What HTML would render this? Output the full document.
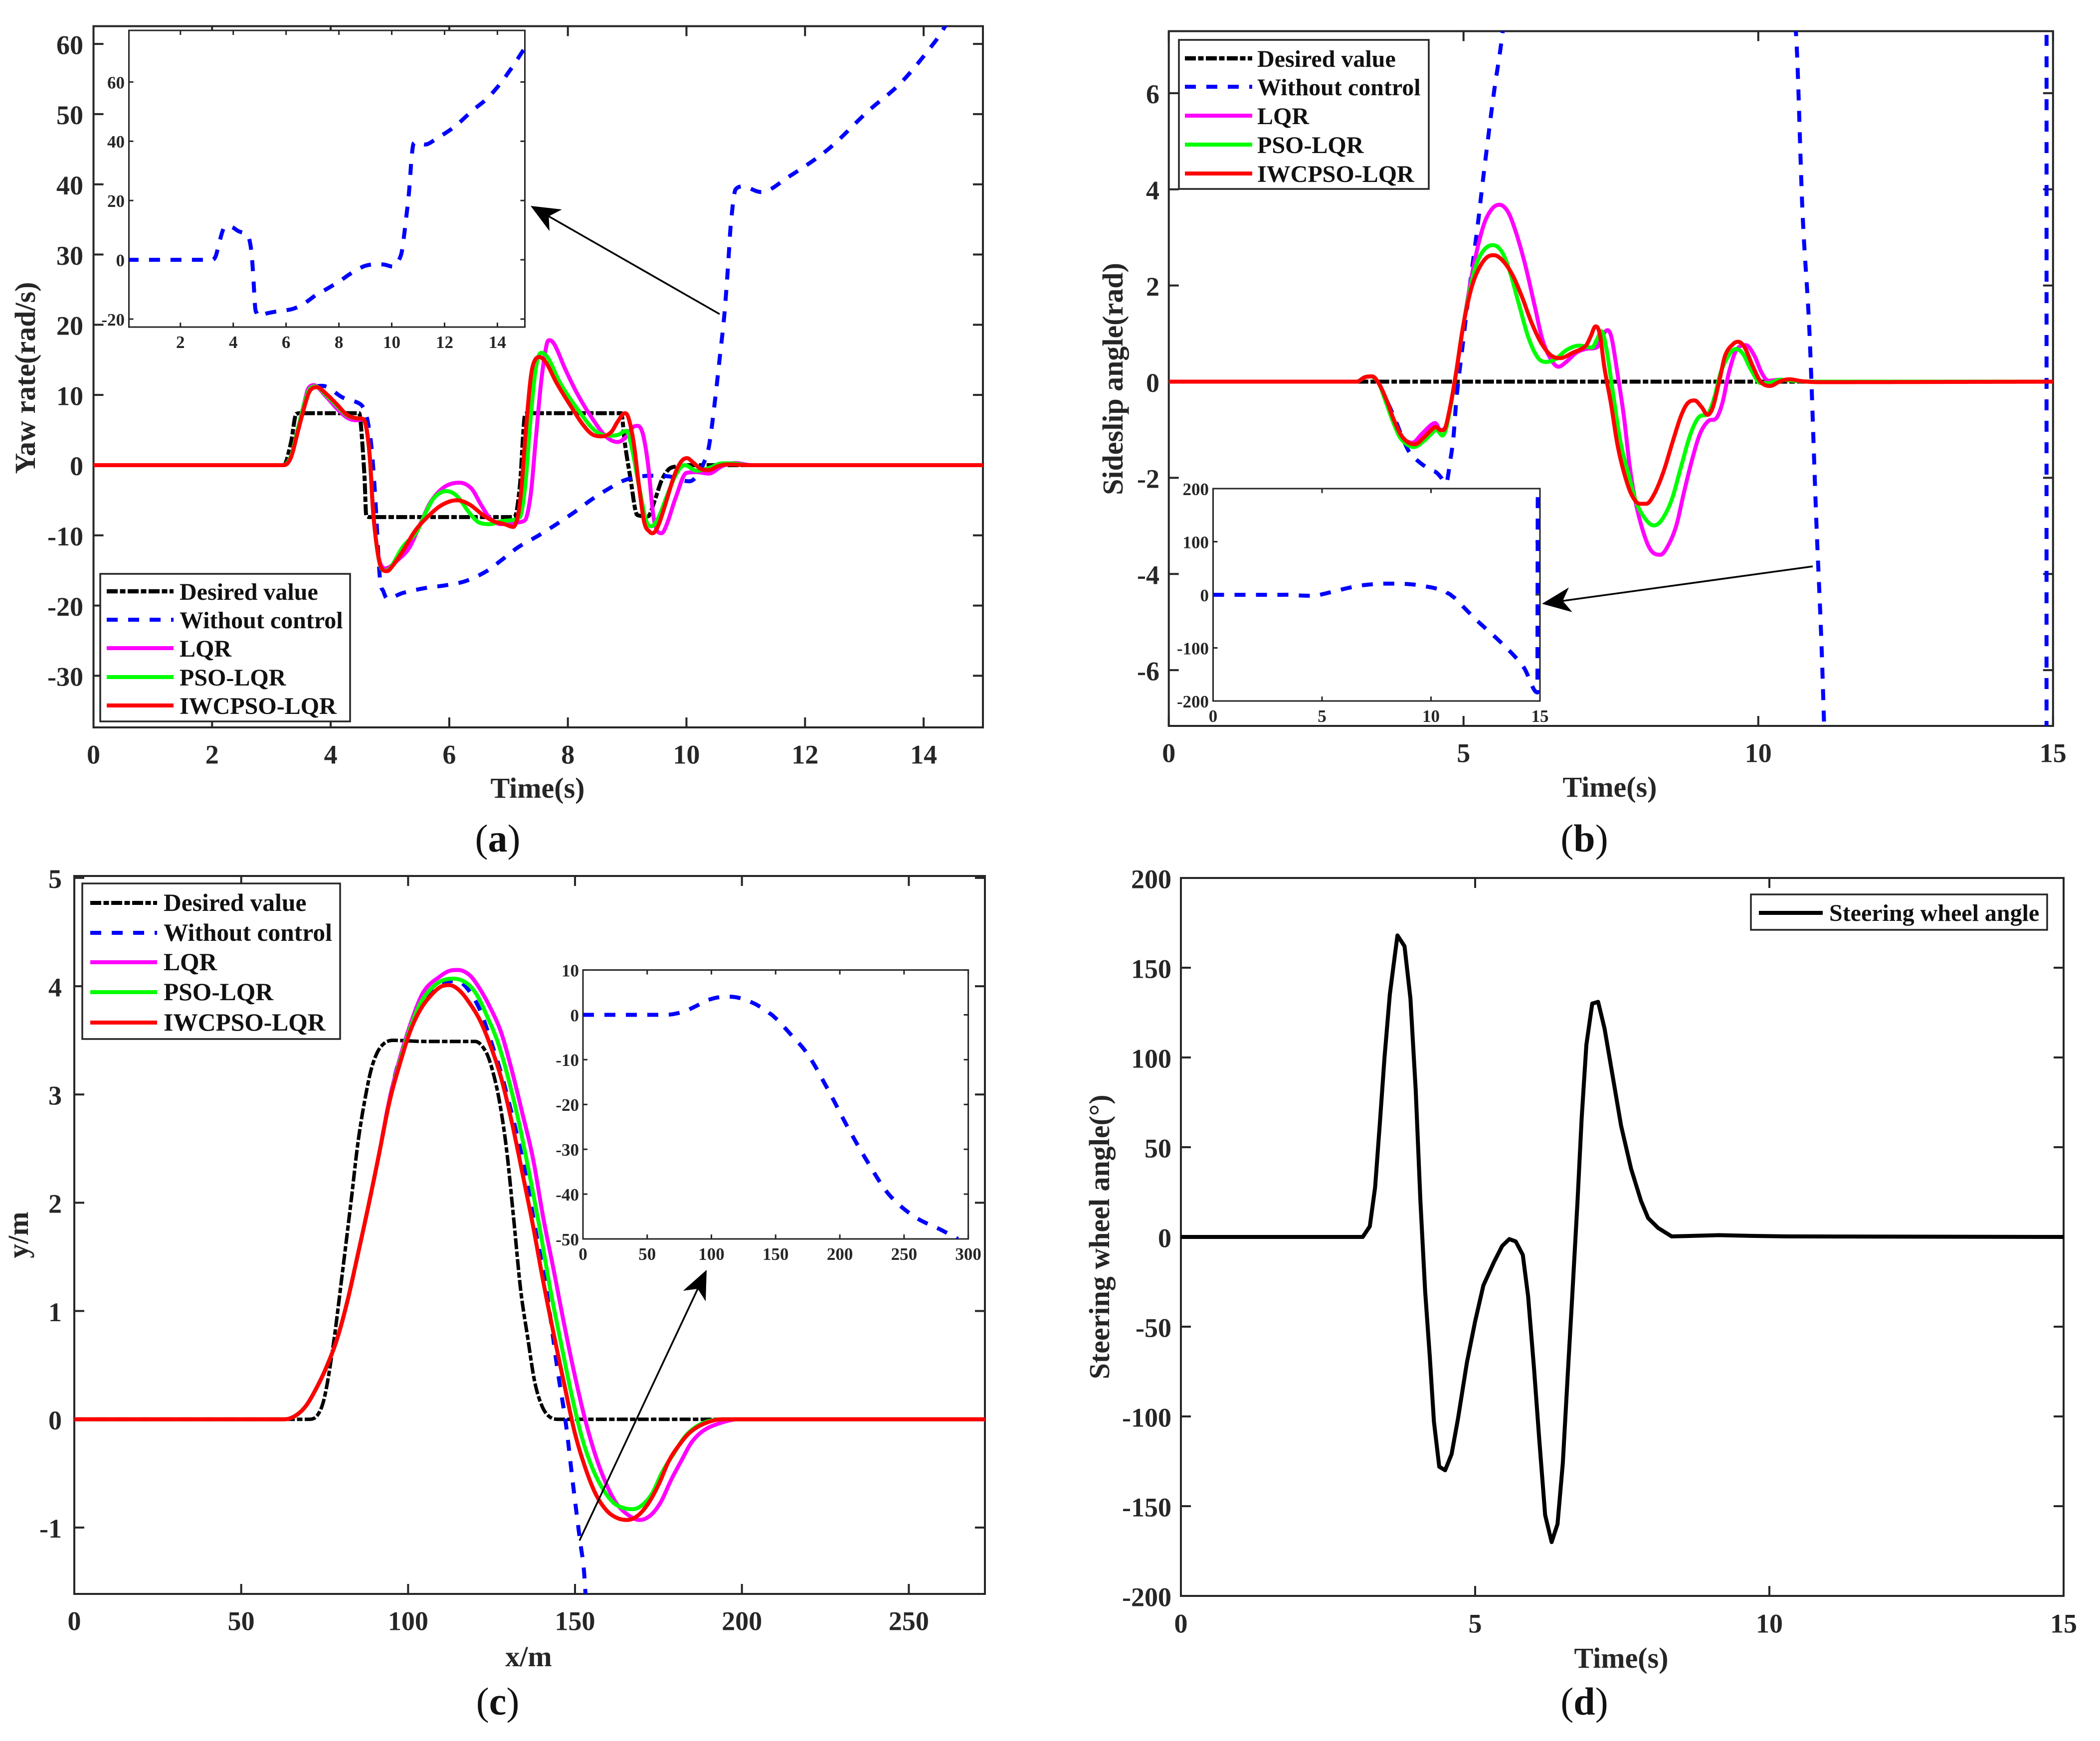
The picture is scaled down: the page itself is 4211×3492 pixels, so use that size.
<!DOCTYPE html>
<html lang="en">
<head>
<meta charset="utf-8">
<title>Vehicle control response charts</title>
<style>
html,body{margin:0;padding:0;background:#fff;overflow:hidden;}
svg{display:block;}
text{font-family:"Liberation Serif",serif;font-weight:bold;fill:#262626;}
.title{font-size:58px;}
.leg{font-size:48px;fill:#111;}
.cap{font-size:78px;fill:#111;font-weight:normal;}
.cap tspan{font-weight:bold;}
.box{fill:#fff;stroke:#262626;stroke-width:3.5;}
</style>
</head>
<body>
<svg id="figure" xmlns="http://www.w3.org/2000/svg" width="4211" height="3492" viewBox="0 0 4211 3492">
<rect x="0" y="0" width="4211" height="3492" fill="#fff"/>

<g id="panel-a">
  <g id="a-main"></g>
  <text class="title" x="1078" y="1600" text-anchor="middle">Time(s)</text>
  <text class="title" transform="translate(70,758) rotate(-90)" text-anchor="middle">Yaw rate(rad/s)</text>
  <g>
    <rect class="box" x="201" y="1151" width="501" height="296"/>
    <line x1="214" x2="348" y1="1186" y2="1186" stroke="#000" stroke-width="8.5" stroke-dasharray="22 4.5 11 4.5"/>
    <text class="leg" x="360" y="1203">Desired value</text>
    <line x1="214" x2="348" y1="1243" y2="1243" stroke="#0000ff" stroke-width="8" stroke-dasharray="22 21"/>
    <text class="leg" x="360" y="1260">Without control</text>
    <line x1="214" x2="348" y1="1300" y2="1300" stroke="#ff00ff" stroke-width="8"/>
    <text class="leg" x="360" y="1317">LQR</text>
    <line x1="214" x2="348" y1="1358" y2="1358" stroke="#00ff00" stroke-width="8"/>
    <text class="leg" x="360" y="1375">PSO-LQR</text>
    <line x1="214" x2="348" y1="1415" y2="1415" stroke="#ff0000" stroke-width="8"/>
    <text class="leg" x="360" y="1432">IWCPSO-LQR</text>
  </g>
  <g id="a-inset"></g>
  <g id="a-arrow"></g>
  <text class="cap" x="998" y="1708" text-anchor="middle">(<tspan>a</tspan>)</text>
</g>

<g id="panel-b">
  <g id="b-main"></g>
  <text class="title" x="3228" y="1598" text-anchor="middle">Time(s)</text>
  <text class="title" transform="translate(2251,760) rotate(-90)" text-anchor="middle">Sideslip angle(rad)</text>
  <g>
    <rect class="box" x="2364" y="80" width="501" height="299"/>
    <line x1="2376" x2="2511" y1="117" y2="117" stroke="#000" stroke-width="8.5" stroke-dasharray="22 4.5 11 4.5"/>
    <text class="leg" x="2521" y="134">Desired value</text>
    <line x1="2376" x2="2511" y1="174" y2="174" stroke="#0000ff" stroke-width="8" stroke-dasharray="22 21"/>
    <text class="leg" x="2521" y="191">Without control</text>
    <line x1="2376" x2="2511" y1="232" y2="232" stroke="#ff00ff" stroke-width="8"/>
    <text class="leg" x="2521" y="249">LQR</text>
    <line x1="2376" x2="2511" y1="290" y2="290" stroke="#00ff00" stroke-width="8"/>
    <text class="leg" x="2521" y="307">PSO-LQR</text>
    <line x1="2376" x2="2511" y1="348" y2="348" stroke="#ff0000" stroke-width="8"/>
    <text class="leg" x="2521" y="365">IWCPSO-LQR</text>
  </g>
  <g id="b-inset"></g>
  <g id="b-arrow"></g>
  <text class="cap" x="3177" y="1708" text-anchor="middle">(<tspan>b</tspan>)</text>
</g>

<g id="panel-c">
  <g id="c-main"></g>
  <text class="title" x="1060" y="3342" text-anchor="middle">x/m</text>
  <text class="title" transform="translate(56,2477) rotate(-90)" text-anchor="middle">y/m</text>
  <g>
    <rect class="box" x="165" y="1772" width="517" height="312"/>
    <line x1="181" x2="315" y1="1811" y2="1811" stroke="#000" stroke-width="8" stroke-dasharray="22 4.5 11 4.5"/>
    <text class="leg" style="font-size:49.5px" x="328" y="1827">Desired value</text>
    <line x1="181" x2="315" y1="1871" y2="1871" stroke="#0000ff" stroke-width="8" stroke-dasharray="22 21"/>
    <text class="leg" style="font-size:49.5px" x="328" y="1887">Without control</text>
    <line x1="181" x2="315" y1="1930" y2="1930" stroke="#ff00ff" stroke-width="8"/>
    <text class="leg" style="font-size:49.5px" x="328" y="1946">LQR</text>
    <line x1="181" x2="315" y1="1990" y2="1990" stroke="#00ff00" stroke-width="8"/>
    <text class="leg" style="font-size:49.5px" x="328" y="2006">PSO-LQR</text>
    <line x1="181" x2="315" y1="2051" y2="2051" stroke="#ff0000" stroke-width="8"/>
    <text class="leg" style="font-size:49.5px" x="328" y="2067">IWCPSO-LQR</text>
  </g>
  <g id="c-inset"></g>
  <g id="c-arrow"></g>
  <text class="cap" x="998" y="3439" text-anchor="middle">(<tspan>c</tspan>)</text>
</g>

<g id="panel-d">
  <g id="d-main"></g>
  <text class="title" x="3251" y="3345" text-anchor="middle">Time(s)</text>
  <text class="title" transform="translate(2224,2481) rotate(-90)" text-anchor="middle">Steering wheel angle(°)</text>
  <g>
    <rect class="box" x="3511" y="1794" width="594" height="71"/>
    <line x1="3527" x2="3655" y1="1831" y2="1831" stroke="#000" stroke-width="8"/>
    <text class="leg" x="3668" y="1847">Steering wheel angle</text>
  </g>
  <text class="cap" x="3177" y="3439" text-anchor="middle">(<tspan>d</tspan>)</text>
</g>
</svg>

<script>
/* ---------- Panel (a): yaw rate ---------- */
const aXTicks = [0,2,4,6,8,10,12,14];
const aYTicks = [-30,-20,-10,0,10,20,30,40,50,60];
const aInsetXTicks = [2,4,6,8,10,12,14];
const aInsetYTicks = [-20,0,20,40,60];
const aDesiredT = [0,3.21,3.33,3.42,3.5,4.48,4.51,4.57,4.6,4.66,7.1,7.19,7.25,7.28,7.36,8.9,8.96,9.05,9.17,9.35,9.47,9.58,9.7,9.82,10.1,15];
const aDesiredV = [0,0,3.2,7.3,7.4,7.4,5.7,-1.6,-7.2,-7.4,-7.4,-3,4.9,7.3,7.4,7.4,3.2,-1.6,-7.1,-7.3,-4.9,-2.2,-0.6,-0.2,0,0];
const aWithoutT = [0,3.21,3.33,3.45,3.57,3.65,3.75,3.86,4.21,4.48,4.57,4.63,4.69,4.75,4.83,4.89,4.95,5.22,5.6,5.95,6.28,6.63,6.87,7.16,7.49,7.81,8.11,8.4,8.7,8.99,9.41,9.7,10.05,10.17,10.29,10.38,10.47,10.56,10.64,10.7,10.75,10.83,10.95,11.26,11.71,12.39,13.06,13.62,14.19,14.4,14.6,15];
const aWithoutV = [0,0,1.1,5,9,10.8,11.2,11.3,9.6,8.8,7.9,6,2.4,-4.4,-16.1,-18,-19,-18.2,-17.5,-17.1,-16.5,-15.1,-13.6,-11.7,-10.1,-8.4,-6.7,-4.9,-3.3,-2.05,-1.5,-1.6,-2.3,-1.6,0.26,2.7,8.4,15.2,21.5,28.2,34.5,39.3,39.7,38.9,41,45,50.4,54.5,60.3,63,65.5,71];
const aLqrT = [0,3.2,3.33,3.45,3.57,3.62,3.71,3.92,4.1,4.27,4.42,4.54,4.6,4.66,4.72,4.81,4.92,5.16,5.33,5.51,5.69,5.92,6.17,6.37,6.54,6.69,6.87,7.1,7.27,7.37,7.46,7.55,7.64,7.69,7.78,7.96,8.17,8.4,8.64,8.84,8.99,9.08,9.17,9.26,9.35,9.44,9.52,9.58,9.67,9.82,10,10.17,10.38,10.6,10.82,11.1,15];
const aLqrV = [0,0,1.3,5.3,9.4,10.9,11.4,9.8,8.1,6.8,6.4,6.5,5.4,1.1,-7,-13.2,-14.7,-13.3,-11.7,-8.4,-5.2,-3.1,-2.5,-3.3,-5.7,-7.6,-8.4,-8.2,-7.9,-4.4,3.8,11.9,17.1,17.8,17.1,13.6,10,6.8,4.1,3.3,4.1,5.3,5.6,4.6,0.25,-7.1,-9.5,-9.7,-8.4,-4.6,-1.1,-1,-1.2,-0.15,0.3,0,0];
const aPsoT = [0,3.2,3.33,3.45,3.57,3.65,3.75,3.92,4.1,4.27,4.42,4.54,4.6,4.66,4.72,4.81,4.89,4.95,5.04,5.22,5.45,5.6,5.75,5.95,6.13,6.34,6.51,6.69,6.87,7.08,7.19,7.28,7.37,7.46,7.55,7.67,7.87,8.17,8.46,8.7,8.84,8.99,9.08,9.2,9.32,9.41,9.52,9.67,9.82,9.97,10.17,10.38,10.6,10.76,11.05,15];
const aPsoV = [0,0,1.3,5.3,9.2,10.9,11.2,10,8.5,7.1,6.7,6.6,5.4,1,-7.1,-13.4,-15,-15,-14.2,-11.6,-9.5,-6.8,-4.6,-3.7,-4.4,-6.8,-8.2,-8.4,-8,-7.8,-7.4,-3,6.5,13.8,16,15.2,11.7,7.9,4.9,4.2,4.3,4.9,2.4,-3,-7.9,-8.7,-7.6,-4.4,-1.4,0,-0.8,-0.4,0.25,0.25,0,0];
const aIwcT = [0,3.21,3.33,3.45,3.57,3.65,3.77,3.92,4.1,4.27,4.42,4.54,4.6,4.66,4.72,4.81,4.89,4.95,5.04,5.22,5.42,5.63,5.87,6.13,6.34,6.57,6.75,6.93,7.08,7.16,7.22,7.28,7.37,7.43,7.52,7.64,7.81,8.05,8.26,8.43,8.58,8.73,8.84,8.96,9.02,9.11,9.2,9.29,9.38,9.43,9.52,9.64,9.79,9.91,10.01,10.11,10.26,10.38,10.53,10.7,11.05,15];
const aIwcV = [0,0,1.1,4.9,8.7,10.6,11.1,10.2,8.7,7.2,6.7,6.6,5.4,1.1,-7.1,-13.3,-15,-15.1,-14.4,-12.2,-9.4,-7.4,-5.7,-5,-5.6,-7.1,-8,-8.4,-8.8,-7.1,-3,3.8,12.2,14.7,15.4,14.5,11.7,8.4,5.7,4.3,4.1,4.7,6.2,7.4,6.8,3.2,-3,-8.2,-9.5,-9.7,-8.7,-5.7,-1.6,0.5,1,0.4,-0.6,-0.7,-0.15,0.1,0,0];

/* ---------- Panel (b): sideslip angle ---------- */
const bXTicks = [0,5,10,15];
const bYTicks = [-6,-4,-2,0,2,4,6];
const bInsetXTicks = [0,5,10,15];
const bInsetYTicks = [-200,-100,0,100,200];
const bDesiredT = [0,15];
const bDesiredV = [0,0];
const bWithoutT = [0,3.19,3.32,3.45,3.56,3.7,3.81,4.05,4.18,4.43,4.53,4.61,4.7,4.78,4.83,4.88,4.97,5.1,5.24,5.33,5.51,5.66,6.1,6.87,7.95,9.02,10,10.4,10.64,10.75,10.87,10.98,11.09,11.3,12.1,13.34,14.26,14.88,14.9,14.93];
const bWithoutV = [0,0,0.09,0.11,-0.03,-0.4,-0.7,-1.4,-1.6,-1.83,-1.88,-1.98,-2.12,-1.6,-1.14,-0.35,0.6,1.93,3.25,4.2,5.96,7.24,12,18,21,20,14,10,7.24,3.54,0.98,-2.75,-6.1,-15,-48,-95,-137,-184,187,195];
const bLqrT = [0,3.19,3.32,3.43,3.56,3.67,3.81,3.94,4.13,4.29,4.45,4.52,4.61,4.7,4.86,5.02,5.18,5.34,5.48,5.61,5.75,5.88,6.04,6.21,6.34,6.48,6.61,6.75,6.91,7.07,7.26,7.34,7.44,7.51,7.61,7.72,7.82,7.93,8.1,8.23,8.34,8.47,8.61,8.74,8.88,9.01,9.15,9.28,9.39,9.5,9.63,9.79,9.93,10.06,10.17,10.36,10.69,11,15];
const bLqrV = [0,0,0.09,0.11,-0.03,-0.35,-0.82,-1.14,-1.27,-1.09,-0.9,-0.86,-1.01,-0.93,0.08,1.35,2.46,3.25,3.59,3.68,3.54,3.14,2.46,1.56,0.87,0.47,0.31,0.42,0.6,0.68,0.71,0.92,1.07,0.92,0.18,-0.72,-1.77,-2.57,-3.31,-3.57,-3.6,-3.41,-2.99,-2.3,-1.61,-1.09,-0.82,-0.77,-0.45,0.18,0.66,0.76,0.55,0.18,0.02,0.04,0.01,0,0];
const bPsoT = [0,3.19,3.32,3.43,3.56,3.67,3.81,3.94,4.16,4.32,4.45,4.54,4.64,4.72,4.86,4.99,5.13,5.24,5.37,5.5,5.64,5.77,5.94,6.1,6.26,6.4,6.56,6.75,6.96,7.18,7.26,7.34,7.42,7.53,7.66,7.8,7.93,8.1,8.23,8.36,8.53,8.69,8.85,8.99,9.15,9.25,9.36,9.5,9.62,9.74,9.88,10.04,10.17,10.36,10.69,11,15];
const bPsoV = [0,0,0.09,0.11,-0.03,-0.38,-0.85,-1.19,-1.36,-1.24,-1.09,-1,-1.12,-0.9,0.08,1.13,2.03,2.51,2.77,2.84,2.72,2.35,1.61,0.92,0.5,0.41,0.47,0.66,0.75,0.71,0.87,1.05,0.71,-0.19,-1.24,-1.93,-2.51,-2.88,-2.99,-2.88,-2.46,-1.77,-1.09,-0.74,-0.66,-0.35,0.18,0.55,0.68,0.58,0.24,-0.03,-0.03,0.04,0.01,0,0];
const bIwcT = [0,3.19,3.32,3.45,3.56,3.7,3.81,3.94,4.07,4.18,4.32,4.45,4.53,4.61,4.67,4.75,4.86,4.99,5.13,5.26,5.4,5.52,5.67,5.83,5.99,6.15,6.31,6.48,6.64,6.85,7.07,7.15,7.24,7.31,7.39,7.5,7.61,7.72,7.85,7.99,8.1,8.23,8.39,8.55,8.69,8.8,8.92,9.04,9.14,9.23,9.34,9.44,9.58,9.66,9.77,9.9,10.04,10.2,10.36,10.52,10.74,11,15];
const bIwcV = [0,0,0.09,0.11,-0.03,-0.4,-0.77,-1.11,-1.27,-1.3,-1.17,-1.01,-0.94,-1.01,-1,-0.66,0.08,1.13,1.93,2.35,2.59,2.63,2.51,2.22,1.77,1.24,0.82,0.55,0.49,0.6,0.74,0.92,1.15,1,0.29,-0.45,-1.3,-1.88,-2.35,-2.54,-2.54,-2.35,-1.88,-1.24,-0.71,-0.45,-0.39,-0.53,-0.69,-0.53,0.02,0.55,0.79,0.83,0.71,0.34,0,-0.09,0,0.05,0.01,-0.01,0];

/* ---------- Panel (c): trajectory ---------- */
const cXTicks = [0,50,100,150,200,250];
const cYTicks = [-1,0,1,2,3,4,5];
const cInsetXTicks = [0,50,100,150,200,250,300];
const cInsetYTicks = [-50,-40,-30,-20,-10,0,10];
const cDesiredX = [0,70.3,72.9,75,77.6,80.3,82.9,85,87.1,89.2,91.8,95.4,104.9,115.4,120.1,123.2,125.3,127.4,129.5,131.6,133.7,135.8,137.9,140,142.1,144.7,272.8];
const cDesiredY = [0,0,0.04,0.21,0.69,1.35,2.01,2.56,2.96,3.26,3.44,3.5,3.49,3.49,3.49,3.4,3.22,2.93,2.49,1.86,1.2,0.76,0.35,0.13,0.03,0,0];
const cWithoutX = [0,63,66.1,69.3,72.4,75.5,78.7,81.8,85,88.1,91.3,94.4,97.5,104.9,114.3,120.6,125.8,129,134.2,138.4,141.6,144.7,147.3,149.4,151.5,152.6,153.3,160,175,191,206,222,238,258,279,292];
const cWithoutY = [0,0,0.03,0.12,0.28,0.48,0.74,1.09,1.53,1.97,2.45,2.95,3.33,3.88,4.05,3.84,3.4,3.07,2.41,1.71,1.16,0.47,-0.05,-0.6,-1.12,-1.37,-1.67,-3.8,-8.8,-16.8,-25,-33,-40,-45,-48,-50];
const cLqrX = [0,63,66.1,69.3,72.4,75.5,78.7,81.8,85,88.1,91.3,94.4,97.5,100.7,103.8,105.9,109.1,112.2,115,118.5,121.6,124.8,127.9,131.1,134.2,137.4,140.5,143.6,146.8,149.9,153.1,156.2,159.4,162.5,166.2,169.3,172.5,175.6,178.8,181.9,185,188.7,194,199,272.8];
const cLqrY = [0,0,0.03,0.12,0.28,0.48,0.74,1.09,1.53,1.97,2.45,2.95,3.33,3.65,3.9,4,4.08,4.14,4.15,4.1,3.97,3.79,3.57,3.22,2.83,2.41,1.86,1.38,0.87,0.41,-0.01,-0.34,-0.6,-0.78,-0.89,-0.93,-0.89,-0.77,-0.56,-0.38,-0.21,-0.1,-0.03,0,0];
const cPsoX = [0,63,66.1,69.3,72.4,75.5,78.7,81.8,85,88.1,91.3,94.4,97.5,100.7,103.8,107,110.1,113.5,117.5,120.6,123.7,126.9,130,133.2,136.3,139.5,142.6,145.7,148.9,152,155.2,158.3,161.5,164.6,167.2,169.8,173,176.1,179.3,183.5,188.7,195,272.8];
const cPsoY = [0,0,0.03,0.12,0.28,0.48,0.74,1.09,1.53,1.97,2.45,2.93,3.3,3.62,3.85,3.98,4.05,4.07,4.03,3.92,3.72,3.48,3.15,2.74,2.27,1.75,1.2,0.72,0.24,-0.16,-0.45,-0.64,-0.77,-0.82,-0.83,-0.8,-0.69,-0.49,-0.33,-0.14,-0.03,0,0];
const cIwcX = [0,63,66.1,69.3,72.4,75.5,78.7,81.8,85,88.1,91.3,94.4,97.5,100.7,103.8,107,110.1,112.4,115.4,118.5,121.6,124.8,127.9,131.1,134.2,137.4,140.5,143.6,146.8,149.9,153.1,156.2,159.4,162.5,165.6,168.8,171.9,175.1,178.2,181.4,184.5,188.7,194,201,272.8];
const cIwcY = [0,0,0.03,0.12,0.28,0.48,0.74,1.09,1.53,1.97,2.45,2.93,3.28,3.59,3.79,3.92,4,4.01,3.96,3.84,3.68,3.44,3.15,2.74,2.28,1.79,1.27,0.79,0.32,-0.12,-0.45,-0.69,-0.84,-0.91,-0.93,-0.89,-0.78,-0.6,-0.38,-0.23,-0.12,-0.04,0,0,0];

/* ---------- Panel (d): steering wheel angle ---------- */
const dXTicks = [0,5,10,15];
const dYTicks = [-200,-150,-100,-50,0,50,100,150,200];
const dSteerT = [0,3.09,3.21,3.3,3.38,3.46,3.55,3.62,3.68,3.8,3.9,3.99,4.07,4.15,4.23,4.3,4.39,4.49,4.6,4.71,4.86,5,5.14,5.32,5.46,5.58,5.69,5.81,5.9,6,6.09,6.19,6.3,6.4,6.49,6.58,6.65,6.74,6.81,6.89,6.99,7.09,7.2,7.33,7.48,7.65,7.82,7.94,8.11,8.34,8.57,9.14,9.7,10.3,15];
const dSteerV = [0,0,5.9,27.6,63,100,135,153,168,162,133,82,20,-30,-67,-103,-128,-130,-121,-101,-70,-47,-27,-14,-5,-1.2,-2.5,-10,-33,-73,-113,-155,-170,-160,-126,-73,-33,20,66,107,130,131,116,91,62,38,20,10.5,5,0.3,0.5,1,0.6,0.3,0];

/* ---------- Rendering helpers ---------- */
const NS = 'http://www.w3.org/2000/svg';
let clipCounter = 0;

function node(tag, parent, attrs) {
  const el = document.createElementNS(NS, tag);
  for (const k in attrs) el.setAttribute(k, attrs[k]);
  parent.appendChild(el);
  return el;
}

function scale(d0, d1, r0, r1) {
  return function (v) { return r0 + (v - d0) * (r1 - r0) / (d1 - d0); };
}

function drawAxes(parent, box, xLim, yLim, xTicks, yTicks, o) {
  const x = scale(xLim[0], xLim[1], box.l, box.r);
  const y = scale(yLim[0], yLim[1], box.b, box.t);
  const frame = node('rect', parent, {x: box.l, y: box.t, width: box.r - box.l, height: box.b - box.t, fill: '#fff', stroke: '#262626', 'stroke-width': o.lw});
  
  
  xTicks.forEach(function (t) {
    const px = x(t);
    const low = node('line', parent, {x1: px, x2: px, y1: box.b, y2: box.b - o.tick, stroke: '#262626', 'stroke-width': o.tw});
    
    
    const high = node('line', parent, {x1: px, x2: px, y1: box.t, y2: box.t + o.tick, stroke: '#262626', 'stroke-width': o.tw});
    
    
    const lab = node('text', parent, {x: px, y: o.xLabelY + o.fs * 0.338, 'text-anchor': 'middle', 'font-size': o.fs});
    
    
    lab.textContent = String(t);
  });
  yTicks.forEach(function (t) {
    const py = y(t);
    const left = node('line', parent, {x1: box.l, x2: box.l + o.tick, y1: py, y2: py, stroke: '#262626', 'stroke-width': o.tw});
    
    
    const right = node('line', parent, {x1: box.r, x2: box.r - o.tick, y1: py, y2: py, stroke: '#262626', 'stroke-width': o.tw});
    
    
    const lab = node('text', parent, {x: o.yLabelX, y: py + o.fs * 0.338 + o.yLabelShift, 'text-anchor': 'end', 'font-size': o.fs});
    
    
    lab.textContent = String(t);
  });
  const clip = node('clipPath', parent, {id: 'clip' + (++clipCounter)});
  node('rect', clip, {x: box.l, y: box.t, width: box.r - box.l, height: box.b - box.t});
  return {x: x, y: y, box: box, clip: 'clip' + clipCounter, parent: parent};
}

/* Sample the data into a dense polyline (optionally smooth), then cut it at the axes' vertical range */
function sampleLine(px, py, smooth) {
  const n = px.length, out = [[px[0], py[0]]];
  const sec = [], tan = [];
  for (let i = 0; i < n - 1; i++) sec.push((py[i + 1] - py[i]) / (px[i + 1] - px[i]));
  tan[0] = sec[0];
  tan[n - 1] = sec[n - 2];
  for (let i = 1; i < n - 1; i++) {
    if (sec[i - 1] * sec[i] <= 0) { tan[i] = 0; continue; }
    const fd = (py[i + 1] - py[i - 1]) / (px[i + 1] - px[i - 1]);
    const lim = 3 * Math.min(Math.abs(sec[i - 1]), Math.abs(sec[i]));
    tan[i] = Math.sign(fd) * Math.min(Math.abs(fd), lim);
  }
  for (let i = 0; i < n - 1; i++) {
    const dx = px[i + 1] - px[i], dy = py[i + 1] - py[i];
    if (!smooth) { out.push([px[i + 1], py[i + 1]]); continue; }
    const steps = Math.min(60, Math.max(4, Math.ceil((Math.abs(dx) + Math.abs(dy)) / 5)));
    for (let k = 1; k <= steps; k++) {
      const u = k / steps, u2 = u * u, u3 = u2 * u;
      const yy = (2 * u3 - 3 * u2 + 1) * py[i] + (u3 - 2 * u2 + u) * dx * tan[i] + (-2 * u3 + 3 * u2) * py[i + 1] + (u3 - u2) * dx * tan[i + 1];
      out.push([px[i] + dx * u, yy]);
    }
  }
  return out;
}

function clippedPath(pts, top, bottom) {
  let d = '', penDown = false;
  for (let i = 0; i < pts.length - 1; i++) {
    const a = pts[i], b = pts[i + 1];
    let t0 = 0, t1 = 1;
    const dy = b[1] - a[1];
    if (dy === 0) {
      if (a[1] < top || a[1] > bottom) { penDown = false; continue; }
    } else {
      const ta = (top - a[1]) / dy, tb = (bottom - a[1]) / dy;
      t0 = Math.max(0, Math.min(ta, tb));
      t1 = Math.min(1, Math.max(ta, tb));
      if (t0 >= t1) { penDown = false; continue; }
    }
    const sx = a[0] + (b[0] - a[0]) * t0, sy = a[1] + dy * t0;
    const ex = a[0] + (b[0] - a[0]) * t1, ey = a[1] + dy * t1;
    if (!penDown || t0 > 0) d += 'M' + sx.toFixed(2) + ' ' + sy.toFixed(2);
    d += 'L' + ex.toFixed(2) + ' ' + ey.toFixed(2);
    penDown = t1 === 1;
  }
  return d;
}

function curve(ax, xs, ys, color, width, dash, smooth) {
  const px = xs.map(ax.x), py = ys.map(ax.y);
  const pts = sampleLine(px, py, smooth);
  const attrs = {d: clippedPath(pts, ax.box.t - 12, ax.box.b + 12), fill: 'none', stroke: color, 'stroke-width': width, 'stroke-linejoin': 'round', 'clip-path': 'url(#' + ax.clip + ')'};
  if (dash) attrs['stroke-dasharray'] = dash;
  return node('path', ax.parent, attrs);
}

function arrow(parent, x1, y1, x2, y2) {
  const a = Math.atan2(y2 - y1, x2 - x1), c = Math.cos(a), s = Math.sin(a);
  const len = 58, wing = 25, notch = 42;
  const bx = x2 - c * notch, by = y2 - s * notch;
  const shaft = node('line', parent, {x1: x1, y1: y1, x2: bx, y2: by, stroke: '#000', 'stroke-width': 3.5});
  
  
  const pts = [[x2, y2], [x2 - c * len - s * wing, y2 - s * len + c * wing], [bx, by], [x2 - c * len + s * wing, y2 - s * len - c * wing]];
  const head = node('polygon', parent, {points: pts.map(function (p) { return p[0].toFixed(1) + ',' + p[1].toFixed(1); }).join(' '), fill: '#000'});
  
  
}

const DASH = '22 21', DOT = '22 4.5 11 4.5';
const MAIN = {lw: 4, tw: 4, tick: 20, fs: 54};
const INSET = {lw: 3, tw: 3, tick: 9, fs: 35};
function opts(base, xLabelY, yLabelX, shift) {
  return {lw: base.lw, tw: base.tw, tick: base.tick, fs: base.fs, xLabelY: xLabelY, yLabelX: yLabelX, yLabelShift: shift};
}

/* Panel (a) */
const axA = drawAxes(document.getElementById('a-main'), {l: 187.5, r: 1971, t: 52.5, b: 1459}, [0, 15], [-37.36, 62.53], aXTicks, aYTicks, opts(MAIN, 1513, 167, 2));
const aDesired = curve(axA, aDesiredT, aDesiredV, '#000', 8, DOT, true);


const aWithout = curve(axA, aWithoutT, aWithoutV, '#0000ff', 8, DASH, true);


const aLqr = curve(axA, aLqrT, aLqrV, '#ff00ff', 8, null, true);


const aPso = curve(axA, aPsoT, aPsoV, '#00ff00', 8, null, true);


const aIwc = curve(axA, aIwcT, aIwcV, '#ff0000', 8, null, true);


const axAi = drawAxes(document.getElementById('a-inset'), {l: 258.5, r: 1052.5, t: 61, b: 656}, [0.05, 15.04], [-22.7, 77.4], aInsetXTicks, aInsetYTicks, opts(INSET, 686, 250, 1));
const aInsetLine = curve(axAi, aWithoutT, aWithoutV, '#0000ff', 8, DASH, true);


arrow(document.getElementById('a-arrow'), 1443, 630, 1064, 413);

/* Panel (b) */
const axB = drawAxes(document.getElementById('b-main'), {l: 2343.7, r: 4116.8, t: 62.5, b: 1456}, [0, 15], [-7.16, 7.29], bXTicks, bYTicks, opts(MAIN, 1510, 2325, 2));
const bDesired = curve(axB, bDesiredT, bDesiredV, '#000', 8, DOT, false);


const bWithout = curve(axB, bWithoutT, bWithoutV, '#0000ff', 8, DASH, true);


const bLqr = curve(axB, bLqrT, bLqrV, '#ff00ff', 8, null, true);


const bPso = curve(axB, bPsoT, bPsoV, '#00ff00', 8, null, true);


const bIwc = curve(axB, bIwcT, bIwcV, '#ff0000', 8, null, true);


const axBi = drawAxes(document.getElementById('b-inset'), {l: 2432.5, r: 3088, t: 980, b: 1406}, [0, 15], [-200, 200], bInsetXTicks, bInsetYTicks, opts(INSET, 1436, 2424, 1));
const bInsetLine = curve(axBi, bWithoutT, bWithoutV, '#0000ff', 8, DASH, true);


arrow(document.getElementById('b-arrow'), 3635, 1136, 3092, 1211);

/* Panel (c) */
const axC = drawAxes(document.getElementById('c-main'), {l: 149, r: 1975, t: 1757, b: 3197}, [0, 272.8], [-1.613, 5.018], cXTicks, cYTicks, opts(MAIN, 3251, 124, 2));
const cDesired = curve(axC, cDesiredX, cDesiredY, '#000', 7, DOT, true);


const cWithout = curve(axC, cWithoutX, cWithoutY, '#0000ff', 8, DASH, true);


const cLqr = curve(axC, cLqrX, cLqrY, '#ff00ff', 8, null, true);


const cPso = curve(axC, cPsoX, cPsoY, '#00ff00', 8, null, true);


const cIwc = curve(axC, cIwcX, cIwcY, '#ff0000', 8, null, true);


const axCi = drawAxes(document.getElementById('c-inset'), {l: 1169, r: 1941.6, t: 1945.6, b: 2485}, [0, 300], [-50, 10], cInsetXTicks, cInsetYTicks, opts(INSET, 2515, 1161, 1));
const cInsetLine = curve(axCi, cWithoutX, cWithoutY, '#0000ff', 8, DASH, true);


arrow(document.getElementById('c-arrow'), 1162, 3090, 1417, 2547);

/* Panel (d) */
const axD = drawAxes(document.getElementById('d-main'), {l: 2368, r: 4138, t: 1761, b: 3201}, [0, 15], [-200, 200], dXTicks, dYTicks, opts(MAIN, 3256, 2349, 2));
const dSteer = curve(axD, dSteerT, dSteerV, '#000', 8, null, false);


</script>
</body>
</html>
